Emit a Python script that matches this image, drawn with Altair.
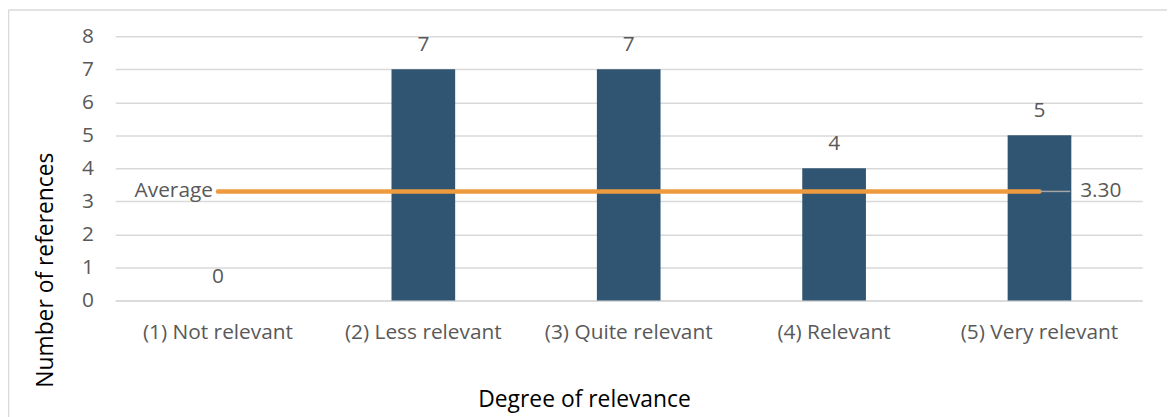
import altair as alt
import pandas as pd

categories = ["(1) Not relevant", "(2) Less relevant", "(3) Quite relevant", "(4) Relevant", "(5) Very relevant"]
counts = [0, 7, 7, 4, 5]
average_value = 3.30
average_label = "Average"
average_text = "3.30"
y_ticks = [0, 1, 2, 3, 4, 5, 6, 7, 8]

FONT = "Open Sans"
BAR = "#2F5573"
ORANGE = "#EE9A3E"
GRID = "#D9D9D9"
LABEL = "#595959"

df = pd.DataFrame({"cat": categories, "n": counts})
avg_df = pd.DataFrame({"start": [categories[0]], "end": [categories[-1]], "v": [average_value],
                       "lab": [average_label], "txt": [average_text]})

xscale = alt.Scale(domain=categories, paddingInner=0.69, paddingOuter=0.345)
yscale = alt.Scale(domain=[0, 8])

xaxis = alt.Axis(title="Degree of relevance", labelAngle=0, ticks=False, labelPadding=21,
                 labelFont=FONT, labelFontSize=21, labelColor=LABEL,
                 domainColor=GRID, domainWidth=1.5,
                 titleFont=FONT, titleFontSize=23, titleFontWeight="normal", titleColor="#000000",
                 titleX=472, titleY=107, titleBaseline="alphabetic", titleAlign="center",
                 titleAnchor="middle")
yaxis = alt.Axis(title="Number of references", values=y_ticks, ticks=False,
                 labelOverlap=False,
                 domain=False, labelPadding=22, gridColor=GRID, gridWidth=1.5,
                 labelFont=FONT, labelFontSize=21, labelColor=LABEL,
                 titleFont=FONT, titleFontSize=23, titleFontWeight="normal", titleColor="#000000",
                 titleAngle=270, titleX=-63, titleY=235, titleBaseline="alphabetic",
                 titleAlign="center")

base = alt.Chart(df)

bars = base.mark_bar(color=BAR).encode(
    x=alt.X("cat:N", scale=xscale, sort=categories, axis=xaxis),
    y=alt.Y("n:Q", scale=yscale, axis=yaxis),
)

labels = base.mark_text(font=FONT, fontSize=21, color=LABEL, baseline="alphabetic", dy=-18).encode(
    x=alt.X("cat:N", scale=xscale, sort=categories, axis=xaxis),
    y=alt.Y("n:Q", scale=yscale, axis=yaxis),
    text=alt.Text("n:Q"),
)

avg = alt.Chart(avg_df)
avg_line = avg.mark_rule(color=ORANGE, strokeWidth=4.5, strokeCap="round").encode(
    x=alt.X("start:N", scale=xscale, sort=categories, bandPosition=0.5, axis=xaxis),
    x2=alt.X2("end:N", bandPosition=0.5),
    y=alt.Y("v:Q", scale=yscale, axis=yaxis),
)
leader = avg.mark_rule(color="#A6A6A6", strokeWidth=1.5, x2Offset=31).encode(
    x=alt.X("end:N", scale=xscale, sort=categories, bandPosition=0.5, axis=xaxis),
    x2=alt.X2("end:N", bandPosition=0.5),
    y=alt.Y("v:Q", scale=yscale, axis=yaxis),
)
avg_lab = avg.mark_text(font=FONT, fontSize=21, color=LABEL, align="right", baseline="middle", dx=-5).encode(
    x=alt.X("start:N", scale=xscale, sort=categories, bandPosition=0.5, axis=xaxis),
    y=alt.Y("v:Q", scale=yscale, axis=yaxis),
    text="lab:N",
)
avg_txt = avg.mark_text(font=FONT, fontSize=21, color=LABEL, align="left", baseline="middle", dx=41).encode(
    x=alt.X("end:N", scale=xscale, sort=categories, bandPosition=0.5, axis=xaxis),
    y=alt.Y("v:Q", scale=yscale, axis=yaxis),
    text="txt:N",
)

# outer chart frame (decoration)
frame_left = alt.Chart(avg_df).mark_rule(color=GRID, strokeWidth=1.5).encode(
    x=alt.value(-107.5), y=alt.value(-26.5), y2=alt.value(400))
frame_top = alt.Chart(avg_df).mark_rule(color=GRID, strokeWidth=1.5).encode(
    x=alt.value(-107.5), x2=alt.value(1070), y=alt.value(-26.5))

chart = alt.layer(frame_left, frame_top, bars, labels, avg_line, leader, avg_lab, avg_txt).properties(
    width=1034, height=266,
    autosize=alt.AutoSizeParams(type="none"),
    padding={"left": 108, "top": 27, "right": 25, "bottom": 116},
    background="white",
).configure_view(stroke=None)

chart.save("out.html", embed_options={"renderer": "svg", "actions": False})
